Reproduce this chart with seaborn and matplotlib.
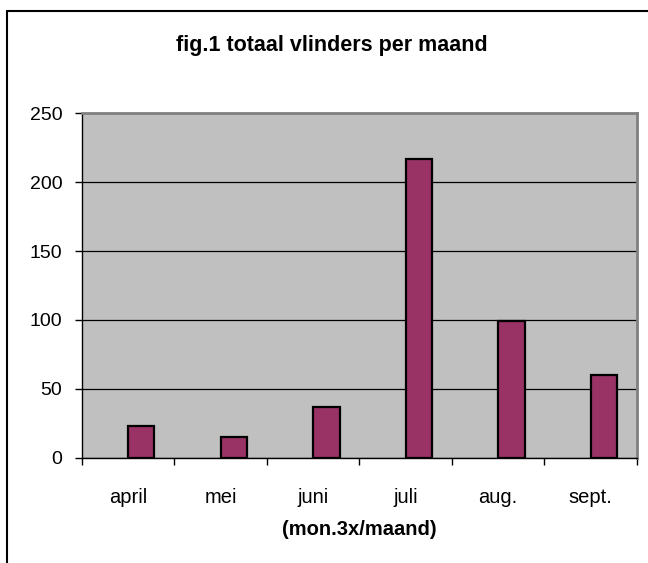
import numpy as np
import pandas as pd
import matplotlib
matplotlib.use("Agg")
import matplotlib.pyplot as plt
from matplotlib.lines import Line2D
import seaborn as sns

# data
maanden = ['april', 'mei', 'juni', 'juli', 'aug.', 'sept.']
vlinders = [23, 15, 37, 217, 99, 60]
# excel chart had an empty first series, the bars sit right of the category centre
leeg = [np.nan] * len(maanden)
y_ticks = [0, 50, 100, 150, 200, 250]

df = pd.DataFrame({
    'maand': maanden * 2,
    'reeks': ['leeg'] * len(maanden) + ['vlinders'] * len(maanden),
    'aantal': leeg + vlinders,
})

sns.set_style("white")
plt.rcParams['font.family'] = ['Liberation Sans', 'DejaVu Sans']
plt.rcParams['text.color'] = 'black'
plt.rcParams['xtick.color'] = 'black'
plt.rcParams['ytick.color'] = 'black'
plt.rcParams['axes.labelcolor'] = 'black'

fig = plt.figure(figsize=(6.48, 5.63), dpi=100)
ax = fig.add_axes([0.1261, 0.1870, 0.8569, 0.6117])

sns.barplot(data=df, x='maand', y='aantal', hue='reeks', hue_order=['leeg', 'vlinders'],
            order=maanden, palette={'leeg': '#993366', 'vlinders': '#993366'},
            width=0.5714, dodge=True, saturation=1, edgecolor='black', linewidth=1.6,
            errorbar=None, legend=False, ax=ax)

ax.set_facecolor('#C0C0C0')
ax.set_ylim(0, 250)
ax.set_yticks(y_ticks)
ax.set_yticklabels([str(t) for t in y_ticks], fontsize=14)
ax.yaxis.grid(True, color='black', lw=0.9)
ax.set_axisbelow(True)

ax.set_xlim(-0.5, len(maanden) - 0.5)
ax.set_xticks(np.arange(-0.5, len(maanden), 1))
ax.set_xticklabels([''] * (len(maanden) + 1))
ax.set_xticks(range(len(maanden)), minor=True)
ax.set_xticklabels(maanden, minor=True, fontsize=14.5)
ax.tick_params(axis='x', which='major', direction='out', length=5, width=1, bottom=True)
ax.tick_params(axis='x', which='minor', length=0, pad=22, bottom=True)
ax.tick_params(axis='y', direction='out', length=5, width=1, pad=9, left=True)

ax.set_xlabel('(mon.3x/maand)', fontsize=14.5, fontweight='bold', labelpad=9)
ax.set_ylabel('')

for side in ['left', 'bottom']:
    ax.spines[side].set_color('black')
    ax.spines[side].set_linewidth(1.0)
for side in ['top', 'right']:
    ax.spines[side].set_visible(True)
    ax.spines[side].set_color('#808080')
    ax.spines[side].set_linewidth(2.0)

fig.text(0.512, 0.919, 'fig.1 totaal vlinders per maand', ha='center', va='center',
         fontsize=15.5, fontweight='bold')

# outer chart frame (only top and left edge show)
top = 1 - 11 / 563
left = 7 / 648
fig.add_artist(Line2D([left, 1], [top, top], color='black', lw=1.5, transform=fig.transFigure))
fig.add_artist(Line2D([left, left], [0, top], color='black', lw=1.5, transform=fig.transFigure))

fig.savefig('out.png', dpi=100)
